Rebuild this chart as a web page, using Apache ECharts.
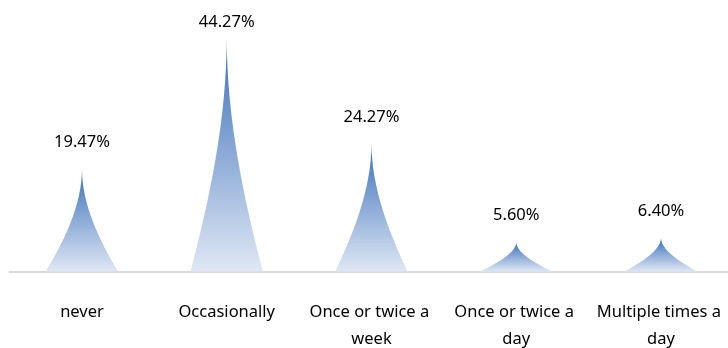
<!DOCTYPE html>
<html>
<head>
<meta charset="utf-8">
<script src="https://cdn.jsdelivr.net/npm/echarts@6/dist/echarts.min.js"></script>
<style>
html,body{margin:0;padding:0;background:#fff;}
#chart{width:728px;height:348px;}
</style>
</head>
<body>
<div id="chart"></div>
<script>
const categories = ['never', 'Occasionally', 'Once or twice a week', 'Once or twice a day', 'Multiple times a day'];
const values = [19.47, 44.27, 24.27, 5.60, 6.40];
const labelDistances = [18, 7, 18, 18, 18];

const chart = echarts.init(document.getElementById('chart'));
const FONT = '"Noto Sans", "Open Sans", sans-serif';
chart.setOption({
  animation: false,
  grid: { left: 9.6, right: -5.4, top: 8, bottom: 76.5, containLabel: false, outerBoundsMode: 'none' },
  xAxis: {
    type: 'category',
    data: categories,
    axisLine: { show: true, lineStyle: { color: '#d9d9d9', width: 2 } },
    axisTick: { show: false },
    axisLabel: {
      interval: 0,
      margin: 27,
      color: '#000',
      fontSize: 16.5,
      fontFamily: FONT,
      lineHeight: 27,
      width: 140,
      overflow: 'break'
    }
  },
  yAxis: {
    type: 'value',
    min: 0,
    max: 50,
    show: false,
    splitLine: { show: false }
  },
  series: [{
    type: 'pictorialBar',
    symbol: 'path://M0,10 L10,10 C7.45,7 5,3.5 5,0 C5,3.5 2.55,7 0,10 z',
    barCategoryGap: '50%',
    symbolSize: ['100%', '100%'],
    data: values.map((v, i) => ({
      value: v,
      label: { distance: labelDistances[i] }
    })),
    itemStyle: {
      color: new echarts.graphic.LinearGradient(0, 0, 0, 1, [
        { offset: 0, color: '#3a6fba' },
        { offset: 1, color: '#dfe7f4' }
      ])
    },
    label: {
      show: true,
      position: 'top',
      color: '#000',
      fontSize: 16.5,
      fontFamily: FONT,
      formatter: p => p.value.toFixed(2) + '%'
    }
  }]
});
</script>
</body>
</html>
